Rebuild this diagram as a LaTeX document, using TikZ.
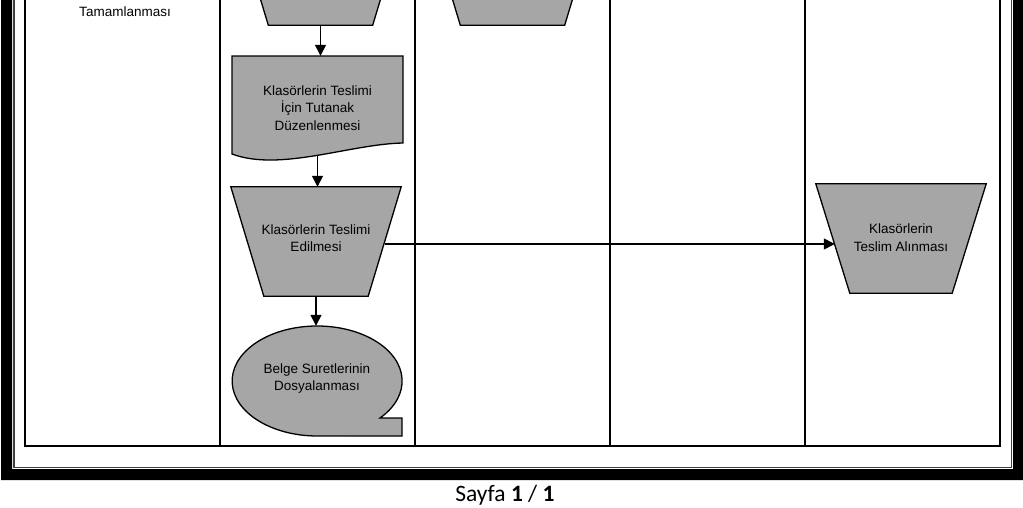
\documentclass[tikz,border=0pt]{standalone}
\usepackage{fontspec}
\setmainfont{Liberation Sans}
\newfontfamily\footfont{Carlito}
\usetikzlibrary{arrows.meta}
\definecolor{shapegray}{RGB}{166,166,166}
\newcommand\diagfont{\fontsize{13.5}{17.5}\selectfont}
\begin{document}
\begin{tikzpicture}[x=1pt,y=-1pt,
  lane/.style={line width=1.5pt,draw=black},
  shapebox/.style={draw=black,line width=1.3pt,fill=shapegray},
  geo/.style={inner sep=0pt,minimum width=170pt,minimum height=109pt},
  lbl/.style={align=center,font=\diagfont,inner sep=0pt},
  flow/.style={line width=1.4pt,-{Triangle[length=11pt,width=11pt]}}
]
\useasboundingbox (0,0) rectangle (1023,507);
\clip (0,0) rectangle (1023,507);
% outer frame
\fill[black,even odd rule] (1,-30) rectangle (1040,480) (12,-20) rectangle (1013,469);
\draw[line width=1.4pt,black!75] (14,-20) -- (14,467.5) -- (1011.5,467.5) -- (1011.5,-20);
% lanes
\draw[lane] (25,-20) -- (25,446) -- (1000,446) -- (1000,-20);
\foreach \lx in {220,415,610,805} \draw[lane] (\lx,-20) -- (\lx,446);
% left lane text
\node[lbl] (tam) at (125,12) {Tamamlanması};
% top (cut) manual operations
\node[geo] (top2) at (320.5,-29.5) {};
\draw[shapebox] (top2.north west) -- (top2.north east) -- ([xshift=-33pt]top2.south east) -- ([xshift=33pt]top2.south west) -- cycle;
\node[geo] (top3) at (512.5,-29.5) {};
\draw[shapebox] (top3.north west) -- (top3.north east) -- ([xshift=-33pt]top3.south east) -- ([xshift=33pt]top3.south west) -- cycle;
% document shape
\node[lbl,minimum width=171pt,minimum height=100pt] (doc) at (317.5,106) {};
\draw[shapebox] (232,56) -- (403,56) -- (403,143) .. controls (350,144) and (280,172) .. (232,154) -- cycle;
\node[lbl] (doctxt) at (317.5,108) {Klasörlerin Teslimi\\İçin Tutanak\\Düzenlenmesi};
% trapezoid t1
\node[geo] (t1) at (316,241.5) {};
\draw[shapebox] (t1.north west) -- (t1.north east) -- ([xshift=-33pt]t1.south east) -- ([xshift=33pt]t1.south west) -- cycle;
\node[lbl] (t1txt) at (316,238) {Klasörlerin Teslimi\\Edilmesi};
% trapezoid t3
\node[geo] (t3) at (901,238.5) {};
\draw[shapebox] (t3.north west) -- (t3.north east) -- ([xshift=-34pt]t3.south east) -- ([xshift=34pt]t3.south west) -- cycle;
\node[lbl] (t3txt) at (901,237.5) {Klasörlerin\\Teslim Alınması};
% callout
\node[lbl,minimum width=170pt,minimum height=110pt] (cal) at (317,381) {};
\draw[shapebox] (380,418) arc[start angle=42.3,end angle=-270,x radius=85,y radius=55]
  -- (402,436) -- (402,418) -- cycle;
\node[lbl] (caltxt) at (317,378.5) {Belge Suretlerinin\\Dosyalanması};
% connectors
\draw[flow] (top2.south) -- (top2.south |- doc.north);
\draw[flow] (doc.south) -- (doc.south |- t1.north);
\draw[flow] (t1.south) -- (t1.south |- cal.north);
\draw[flow] ([xshift=-16.5pt,yshift=-2.5pt]t1.east) -- ([xshift=19pt,yshift=-2.5pt]t1.east -| t3.west);
% footer
\node[font=\footfont\fontsize{23.5}{28}\selectfont] (foot) at (505,495) {Sayfa \textbf{1} / \textbf{1}};
\end{tikzpicture}
\end{document}
